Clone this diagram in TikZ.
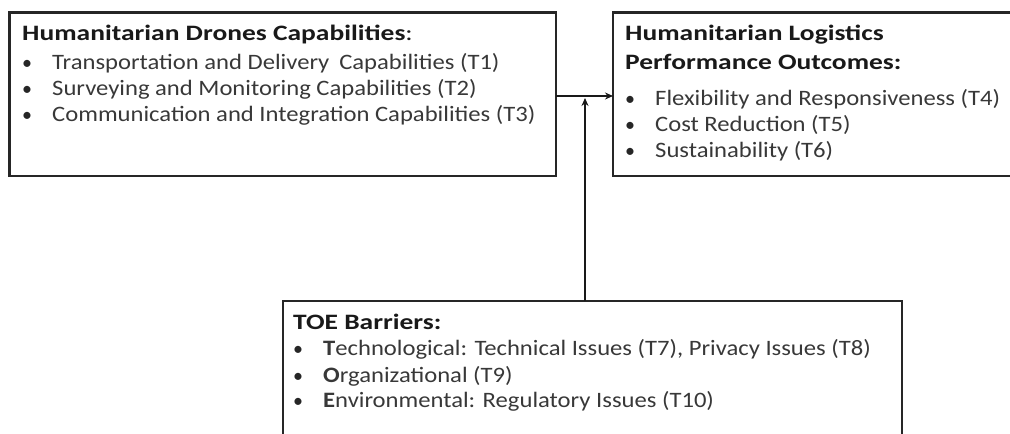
\documentclass[tikz,border=0pt]{standalone}
\usepackage{fontspec}
\setmainfont{Carlito}
\newfontfamily\itmfont{Carlito}[FakeStretch=1.12]
\newfontfamily\ttlfont{Carlito}[FakeStretch=1.25]
\usetikzlibrary{arrows.meta}
\begin{document}
\begin{tikzpicture}[x=1pt,y=-1pt,
  box/.style={draw=black!85,line width=2.4pt},
  ttl/.style={anchor=base west,inner sep=0pt,font=\ttlfont\fontsize{22}{26}\selectfont\bfseries,text=black!90},
  itm/.style={anchor=base west,inner sep=0pt,font=\itmfont\fontsize{22}{26}\selectfont,text=black!78},
  bul/.style={anchor=base west,inner sep=0pt,font=\fontsize{20}{24}\selectfont,text=black!85},
  conn/.style={line width=2.2pt,draw=black!90,-{Stealth[length=8pt,width=7pt]}}]
\useasboundingbox (0,0) rectangle (1010,434);
% boxes
\draw[box] (9.5,12.5) rectangle (556,176);
\coordinate (b1) at (556,96);
\draw[box] (613,12.5) rectangle (1015,176);
\coordinate (b2) at (613,96);
\draw[box] (283,301) rectangle (902,440);
\coordinate (b3) at (585,301);
% box 1 texts
\node[ttl] (t1) at (22,40) {Humanitarian Drones Capabilities\textmd{:}};
\node[bul] (t1a) at (22,69) {•}; \node[itm] (t1at) at (52,69) {Transportation and Delivery\hspace{0.45em}Capabilities (T1)};
\node[bul] (t1b) at (22,95) {•}; \node[itm] (t1bt) at (52,95) {Surveying and Monitoring Capabilities (T2)};
\node[bul] (t1c) at (22,121) {•}; \node[itm] (t1ct) at (52,121) {Communication and Integration Capabilities (T3)};
% box 2 texts
\node[ttl] (t2) at (625,40) {Humanitarian Logistics};
\node[ttl] (t2b) at (625,69) {Performance Outcomes:};
\node[bul] (t2c) at (625,105) {•}; \node[itm] (t2ct) at (655,105) {Flexibility and Responsiveness (T4)};
\node[bul] (t2d) at (625,131) {•}; \node[itm] (t2dt) at (655,131) {Cost Reduction (T5)};
\node[bul] (t2e) at (625,157) {•}; \node[itm] (t2et) at (655,157) {Sustainability (T6)};
% box 3 texts
\node[ttl] (t3) at (293,329) {TOE Barriers:};
\node[bul] (t3a) at (293,355) {•}; \node[itm] (t3at) at (323,355) {\textbf{T}echnological: Technical Issues (T7), Privacy Issues (T8)};
\node[bul] (t3b) at (293,382) {•}; \node[itm] (t3bt) at (323,382) {\textbf{O}rganizational (T9)};
\node[bul] (t3c) at (293,407) {•}; \node[itm] (t3ct) at (323,407) {\textbf{E}nvironmental: Regulatory Issues (T10)};
% connectors
\coordinate (j) at (585,98);
\draw[conn] (b1) -- (b2);
\draw[conn] (b3) -- (j);
\end{tikzpicture}
\end{document}
